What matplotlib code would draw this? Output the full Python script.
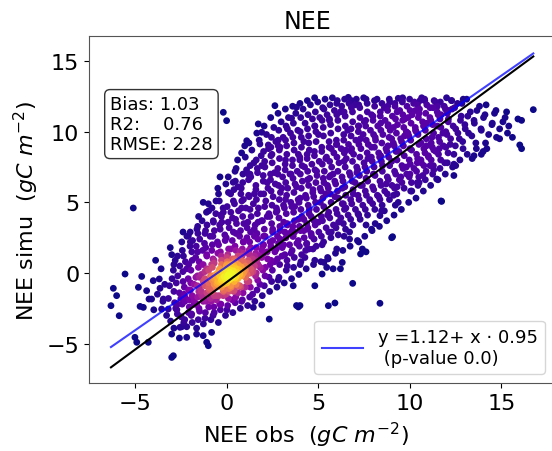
import matplotlib
matplotlib.use('Agg')
import matplotlib.pyplot as plt
from matplotlib.colors import PowerNorm
import numpy as np

core_obs = [-1.4, -1.2, -1.1, -1.0, -0.9, -0.8, -0.8, -0.7, -0.6, -0.6, -0.5, -0.4, -0.4, -0.3, -0.2,
            -0.2, -0.1, 0.0, 0.0, 0.1, 0.1, 0.2, 0.2, 0.3, 0.3, 0.4, 0.4, 0.5, 0.5, 0.6, 0.6, 0.7,
            0.8, 0.8, 0.9, 1.0, 1.0, 1.1, 1.2, 1.3, 1.4, 1.5, 1.6, 1.8, -0.15, 0.05, 0.25, 0.35,
            -0.35, 0.15, 0.45, -0.05, 0.55, 0.65, -0.25, 0.75, -0.55, 0.1, 0.3, 0.2,
            -1.0, -0.7, -0.3, 0.0, 0.4, 0.7, 1.1, 1.3, 0.9, -0.6, 0.2, -0.1, 0.5, 1.5, -1.3]
core_sim = [-1.3, -0.9, -1.4, -0.7, -1.1, -0.5, -1.3, -0.8, -0.3, -1.0, -0.6, -0.9, -0.2, -0.5, -0.8,
            0.0, -0.4, -0.7, 0.1, -0.2, -0.5, 0.2, -0.9, -0.3, 0.4, 0.0, -0.6, 0.3, -0.2, 0.6, -0.4, 0.1,
            0.4, -0.2, 0.8, 0.2, 0.5, -0.1, 0.7, 0.3, 1.0, 0.5, 0.9, 1.2, -0.25, -0.15, -0.05, 0.15,
            -0.65, 0.05, -0.35, -0.55, 0.05, 0.25, -0.35, 0.45, -0.75, 0.3, -0.1, -0.4,
            -1.0, -0.4, -1.0, -0.3, 0.5, -0.1, 0.7, 0.0, 0.0, -0.1, 0.6, 0.2, -0.8, 1.2, -0.6]

halo_obs = [-2.8, -2.6, -2.5, -2.4, -2.3, -2.2, -2.1, -2.0, -1.9, -1.9, -1.8, -1.7, -1.6, -1.6, -1.5,
            -1.4, -1.3, -1.3, -1.2, -1.1, -1.0, -1.0, -0.9, -0.8, -0.7, -0.7, -0.6, -0.5, -0.4, -0.3,
            -0.2, -0.1, 0.0, 0.0, 0.1, 0.2, 0.3, 0.4, 0.5, 0.6, 0.7, 0.8, 0.9, 1.0, 1.1, 1.2, 1.3,
            1.4, 1.5, 1.6, 1.7, 1.8, 1.9, 2.0, 2.1, 2.2, 2.3, 2.4, 2.5, 2.6, 2.7, 2.8, 2.9, 3.0, 3.1,
            3.2, 3.3, 3.4, -2.0, -2.7, -1.2, -0.4, 0.3, 0.8, -3.0, -3.2, -2.9,
            -2.3, -2.1, -1.9, -1.8, -1.7, -1.5, -1.5, -1.3, -1.2, -1.1, -0.9, -0.8, -0.7, -0.5, -0.3,
            -0.2, 0.0, 0.1, 0.3, 0.4, 0.6, 0.7, 0.9, 1.1, 1.2, 1.4, 1.6, 1.7, 1.9, 2.0, 2.2, 2.4, 2.5,
            2.7, 2.9, 3.1, 3.3, 3.6, 3.9, 4.2]
halo_sim = [-2.5, -1.4, -3.1, -0.6, -2.0, 0.3, -2.8, -1.2, -3.5, 0.9, -2.2, -0.3, -1.7, 1.5, -2.7,
            -0.1, -2.0, 0.6, -3.2, 1.2, -2.4, 0.2, -1.8, 2.0, -2.8, 0.7, -1.6, 1.4, -2.2, 0.6,
            -1.6, 2.3, -2.6, 1.1, -1.3, 1.7, -1.9, 0.9, 2.8, -1.4, 1.5, -2.0, 2.2, -1.0, 3.2, -0.6, 1.8,
            -1.5, 2.6, 0.0, 3.6, -0.8, 1.6, 2.6, 0.4, 4.0, -0.3, 1.9, 3.1, 0.8, 4.6, -0.5, 2.4, 1.2, 3.6,
            5.2, 0.5, 2.8, 2.2, 1.2, 2.8, 3.4, 3.9, 4.6, -0.4, -1.8, 0.6,
            -1.7, -1.2, -1.6, -0.8, -2.2, -1.0, -0.3, -1.6, -0.4, 0.3, -0.2, 0.4, -1.6, 0.0, 0.9,
            -1.3, 0.6, -1.1, 1.0, -1.2, 1.2, -0.9, 1.4, -0.6, 1.6, 0.2, 1.8, 0.6, 1.1, 2.0, 1.5, 0.9, 2.3,
            1.7, 3.0, 2.0, 3.4, 2.6, 3.8, 3.0]

left_obs = [-3.5, -3.4, -3.3, -3.6, -3.8, -4.0, -2.9, -2.6, -3.1, -2.4, -2.2, -3.9, -2.7,
            -6.21, -6.03, -6.34, -5.89, -5.57, -4.66, -4.84, -4.39, -4.26, -4.12, -4.75, -4.57,
            -5.03, -4.93, -4.3, -3.66, -3.7, -4.03, -3.48, -3.57, -3.21, -3.02, -2.93, -3.02, -5.12,
            -2.2, -1.66, -1.3, -1.11, -1.02, -0.84, -2.57, -2.11, -0.75]
left_sim = [-2.0, -0.8, -3.0, 0.3, -1.5, -2.6, -3.9, -4.6, 1.8, 2.9, -3.8, 0.9, -2.2,
            -1.08, -1.6, -2.31, -3.02, -0.07, -0.24, -1.01, -1.25, -1.84, -1.84, -2.36, -2.43,
            -4.55, -4.9, -4.9, -1.08, -0.42, -0.54, -1.84, -2.55, -2.55, -4.32, -5.85, -5.97, 4.6,
            -4.55, -4.32, -4.43, -4.9, -5.14, -4.2, -3.84, 2.64, 3.7]

upper_left_obs = [-1.6, -1.0, -0.6, -0.3, 0.2, 0.6, 0.9, 1.3, 1.5, 1.9, 2.2, 2.4, 2.6, 2.8, 3.0, 3.2,
                  3.3, 3.5, 1.0, 0.5, -0.5, -1.3, -0.2, -0.02, 2.62, 3.8, 3.53, 1.71, 1.9, 1.08, 1.8,
                  2.26, 2.9, 0.34, 1.16, -0.2]
upper_left_sim = [3.3, 4.4, 5.1, 4.0, 5.6, 6.1, 5.2, 6.8, 5.6, 7.6, 6.4, 8.3, 7.1, 9.4, 6.0, 8.0,
                  10.2, 7.0, 8.2, 7.4, 6.0, 5.0, 11.37, 10.78, 11.84, 11.73, 10.95, 10.55, 9.96, 9.36,
                  9.13, 9.06, 8.9, 6.42, 7.0, 4.3]

mid_obs = [3.5, 3.6, 3.7, 3.8, 3.9, 4.0, 4.0, 4.1, 4.2, 4.3, 4.4, 4.5, 4.5, 4.6, 4.7, 4.8, 4.9, 5.0,
           5.0, 5.1, 5.2, 5.3, 5.4, 5.5, 5.6, 5.7, 5.8, 5.9, 6.0, 6.1, 6.2, 6.3, 6.4, 6.5, 6.6, 6.7,
           6.8, 6.9, 7.0, 7.1, 7.2, 7.3, 7.4, 7.5, 7.6, 7.7, 7.8, 7.9, 8.0, 8.1, 4.2, 4.8, 3.9, 5.3,
           6.0, 5.7, 6.8, 4.4, 5.6, 6.5, 7.2, 7.9, 3.7, 4.6, 5.4, 6.3, 7.0, 7.6]
mid_sim = [1.4, 3.3, 4.7, 6.1, 2.3, 0.6, 5.3, 7.6, 3.8, 1.6, 6.6, 4.5, 8.7, 2.8, 5.9, 0.9, 7.2, 3.6,
           9.8, 5.0, 2.0, 6.4, 8.1, 4.1, 10.8, 2.9, 7.0, 5.4, 9.1, 3.6, 11.4, 6.0, 7.9, 4.6, 10.1, 2.9,
           8.6, 5.6, 11.9, 7.1, 4.1, 9.5, 6.2, 10.7, 3.4, 8.1, 5.2, 11.2, 7.0, 9.6, 9.3, 10.4, 8.4, 11.6,
           12.0, 8.8, 12.2, 3.1, 6.8, 8.7, 10.4, 8.9, 2.9, 4.0, 5.6, 4.9, 6.4, 6.7]

right_obs = [8.2, 8.3, 8.4, 8.5, 8.6, 8.7, 8.8, 8.9, 9.0, 9.1, 9.2, 9.3, 9.4, 9.5, 9.6, 9.7, 9.8, 9.9,
             10.0, 10.1, 10.2, 10.3, 10.4, 10.5, 10.6, 10.7, 10.8, 10.9, 11.0, 11.1, 11.2, 11.3, 11.4,
             11.5, 11.6, 11.7, 11.8, 11.9, 12.0, 12.1, 12.2, 12.3, 12.4, 12.5, 12.6, 12.7, 12.8, 12.9,
             13.0, 13.1, 13.2, 13.3, 13.5, 13.6, 13.8, 13.9, 14.1, 14.3, 14.5, 14.7, 14.9, 15.2, 15.4,
             8.4, 9.0, 9.6, 10.3, 10.9, 11.5, 12.1, 8.6, 9.3, 10.0, 10.6, 11.3, 8.8, 9.8, 12.5, 13.4, 14.0,
             6.63, 9.36, 10.55, 12.28, 12.91, 16.74, 15.9, 16.1, 15.6, 16.0, 16.1, 14.9, 14.2, 13.9, 13.5,
             12.4, 12.4, 11.46, 11.73, 11.1, 10.4, 10.5, 9.1, 9.36, 8.36, 8.45, 7.9, 9.0]
right_sim = [12.3, 5.4, 10.6, 7.6, 11.7, 6.3, 9.0, 12.1, 7.9, 10.3, 4.8, 11.4, 8.6, 6.8, 12.4, 9.7, 7.5,
             11.0, 8.8, 5.8, 12.0, 10.1, 7.8, 11.3, 9.2, 6.9, 12.3, 10.6, 8.3, 11.7, 9.6, 7.3, 12.1,
             10.4, 8.8, 11.2, 9.9, 7.8, 12.4, 10.9, 9.1, 11.6, 8.4, 10.2, 12.0, 9.5, 11.1, 8.8,
             10.5, 12.3, 9.9, 11.4, 10.8, 9.2, 11.8, 10.1, 11.2, 9.8, 10.6, 11.5, 10.2, 11.0, 10.4,
             8.3, 9.5, 10.8, 11.5, 9.0, 11.8, 11.5, 4.4, 6.1, 7.0, 8.0, 8.7, 10.4, 10.0, 7.6, 8.1, 8.6,
             12.43, 12.36, 12.2, 12.2, 12.3, 11.56, 10.9, 10.8, 9.6, 9.06, 8.8, 9.5, 8.8, 8.4, 8.3,
             7.7, 6.9, 6.65, 5.07, 7.6, 6.4, 6.4, 5.5, 5.0, 4.06, 4.4, 3.1, 2.5]

tail_obs = [1.44, 1.9, 2.31, 3.8, 3.9, 4.8, 3.62, 8.1, 7.2, 7.4, 7.3, 7.6, 6.7, 6.4, 6.0, 5.5, 5.3,
            5.45, 5.8, 6.2, 6.3, 5.2, 6.87, 5.54, 5.9, 3.99, 8.36, 9.05, 11.7, 4.7, 4.26, 4.35]
tail_sim = [-2.43, -2.26, -3.26, -2.3, -2.4, -0.9, -0.9, 3.5, 2.2, 1.7, 1.35, 1.5, 2.4, 2.6, 1.7, 1.1,
            0.75, 0.4, 0.3, 0.3, 0.75, -0.07, -0.73, -2.31, -2.12, -2.3, -2.14, 2.57, 5.1, 1.7, 1.1, 2.05]

# filled body of the cloud, (obs, simu) pairs read column by column
band_pts = [
    (-3.08, -3.4), (-2.86, -2.1), (-3.14, -0.9), (-2.93, 0.2), (-3.02, 1.3),
    (-2.47, -3.8), (-2.71, -2.9), (-2.52, -1.8), (-2.77, -0.7), (-2.58, 0.5), (-2.44, 1.6),
    (-2.31, -3.3), (-2.06, -2.4), (-2.35, -1.5), (-2.12, -0.4), (-2.27, 0.8), (-2.02, 1.9), (-2.19, 2.6),
    (-1.66, -3.9), (-1.93, -2.9), (-1.79, -1.9), (-1.62, -0.9), (-1.97, 0.2), (-1.71, 1.1), (-1.88, 2.3),
    (-1.64, 3.1), (-1.29, -3.6), (-1.53, -2.5), (-1.38, -1.6), (-1.24, -0.5), (-1.56, 0.4), (-1.33, 1.6),
    (-1.49, 2.4), (-1.36, 3.7), (-0.88, -3.3), (-1.13, -2.0), (-0.97, -1.2), (-0.84, 0.6), (-1.16, 1.8),
    (-0.92, 2.6), (-1.09, 3.4), (-1.02, 4.9), (-0.47, -3.5), (-0.72, -2.4), (-0.58, -1.9), (-0.43, 0.2),
    (-0.76, 1.0), (-0.52, 2.2), (-0.69, 3.0), (-0.61, 4.2), (-0.46, 5.6), (-0.08, -3.0), (-0.33, -2.2),
    (-0.17, -1.2), (-0.04, 0.5), (-0.36, 1.5), (-0.12, 2.7), (-0.28, 3.6), (-0.21, 4.6), (-0.06, 6.3),
    (0.32, -2.8), (0.08, -1.8), (0.23, -1.0), (0.37, 0.7), (0.04, 1.3), (0.29, 2.3), (0.12, 3.2), (0.21, 4.3),
    (0.35, 5.1), (0.07, 6.8), (0.73, -2.5), (0.48, -1.7), (0.62, -0.9), (0.77, 0.9), (0.44, 1.9), (0.69, 2.6),
    (0.52, 3.5), (0.63, 4.4), (0.76, 5.6), (0.46, 6.5), (0.58, 8.0), (1.13, -2.3), (0.88, -1.4), (1.02, -0.3),
    (1.16, 0.9), (0.84, 1.7), (1.09, 2.5), (0.92, 3.5), (1.04, 4.6), (1.18, 5.5), (0.86, 6.4), (1.07, 7.3),
    (0.97, 9.0), (1.52, -2.0), (1.28, -1.0), (1.43, 0.1), (1.57, 1.4), (1.24, 2.2), (1.49, 3.1), (1.32, 4.0),
    (1.44, 4.9), (1.58, 5.9), (1.26, 7.0), (1.47, 7.8), (1.36, 8.7), (1.93, -1.6), (1.68, -0.5), (1.82, 0.4),
    (1.96, 1.9), (1.64, 2.8), (1.89, 3.7), (1.72, 4.6), (1.84, 5.6), (1.98, 6.5), (1.66, 7.4), (1.87, 8.3),
    (1.76, 9.4), (2.33, -1.3), (2.08, -0.2), (2.22, 1.0), (2.36, 2.2), (2.04, 3.1), (2.29, 4.2), (2.12, 5.1),
    (2.24, 6.0), (2.38, 7.0), (2.06, 7.9), (2.27, 8.8), (2.16, 9.8), (2.73, -1.0), (2.48, 0.2), (2.62, 1.5),
    (2.76, 2.6), (2.44, 3.5), (2.69, 4.3), (2.52, 5.4), (2.64, 6.3), (2.78, 7.4), (2.46, 8.4), (2.67, 9.3),
    (2.56, 10.3), (3.13, -0.7), (2.88, 0.6), (3.02, 1.8), (3.16, 2.9), (2.84, 3.9), (3.09, 4.8), (2.92, 5.7),
    (3.04, 6.8), (3.18, 7.7), (2.86, 8.7), (3.07, 9.6), (2.96, 10.7), (3.53, -0.4), (3.28, 0.9), (3.42, 2.0),
    (3.56, 3.0), (3.24, 4.2), (3.49, 5.0), (3.32, 6.0), (3.44, 7.0), (3.58, 8.0), (3.26, 9.0), (3.47, 9.9),
    (3.36, 11.0), (3.93, -0.1), (3.68, 1.1), (3.82, 2.1), (3.96, 3.3), (3.64, 4.3), (3.89, 5.2), (3.72, 6.3),
    (3.84, 7.2), (3.98, 8.2), (3.66, 9.2), (3.87, 10.1), (3.76, 11.3), (4.33, 0.3), (4.08, 1.3), (4.22, 2.5),
    (4.36, 3.5), (4.04, 4.5), (4.29, 5.5), (4.12, 6.5), (4.24, 7.5), (4.38, 8.4), (4.06, 9.6), (4.27, 10.6),
    (4.16, 11.6), (4.73, 0.6), (4.48, 1.7), (4.62, 2.6), (4.76, 3.7), (4.44, 4.8), (4.69, 5.7), (4.52, 6.7),
    (4.64, 7.7), (4.78, 8.6), (4.46, 9.7), (4.67, 10.9), (4.56, 11.9), (5.13, 0.8), (4.88, 1.9), (5.02, 2.9),
    (5.16, 4.0), (4.84, 5.0), (5.09, 6.0), (4.92, 6.9), (5.04, 7.9), (5.18, 8.9), (4.86, 10.0), (5.07, 11.0),
    (4.96, 12.1), (5.53, 1.0), (5.28, 2.2), (5.42, 3.2), (5.56, 4.3), (5.24, 5.3), (5.49, 6.2), (5.32, 7.2),
    (5.44, 8.2), (5.58, 9.3), (5.26, 10.3), (5.47, 11.2), (5.36, 12.3), (5.93, 1.4), (5.68, 2.5), (5.82, 3.4),
    (5.96, 4.5), (5.64, 5.6), (5.89, 6.5), (5.72, 7.5), (5.84, 8.5), (5.98, 9.4), (5.66, 10.5), (5.87, 11.5),
    (5.76, 12.4), (6.33, 1.6), (6.08, 2.7), (6.22, 3.9), (6.36, 4.9), (6.04, 5.8), (6.29, 6.8), (6.12, 7.8),
    (6.24, 8.8), (6.38, 9.8), (6.06, 10.8), (6.27, 11.8), (6.73, 1.9), (6.48, 3.1), (6.62, 4.1), (6.76, 5.2),
    (6.44, 6.1), (6.69, 7.1), (6.52, 8.1), (6.64, 9.1), (6.78, 10.2), (6.46, 11.1), (6.67, 12.0), (7.13, 2.3),
    (6.88, 3.4), (7.02, 4.5), (7.16, 5.5), (6.84, 6.5), (7.09, 7.5), (6.92, 8.4), (7.04, 9.4), (7.18, 10.4),
    (6.86, 11.4), (7.07, 12.3), (7.53, 2.6), (7.28, 3.8), (7.42, 4.8), (7.56, 5.8), (7.24, 6.9), (7.49, 7.8),
    (7.32, 8.8), (7.44, 9.8), (7.58, 10.8), (7.26, 11.7), (7.47, 12.4), (7.93, 3.0), (7.68, 4.1), (7.82, 5.1),
    (7.96, 6.1), (7.64, 7.2), (7.89, 8.2), (7.72, 9.1), (7.84, 10.1), (7.98, 11.1), (7.66, 12.0), (8.33, 3.3),
    (8.08, 4.5), (8.22, 5.5), (8.36, 6.5), (8.04, 7.5), (8.29, 8.5), (8.12, 9.4), (8.24, 10.4), (8.38, 11.4),
    (8.06, 12.2), (8.73, 3.7), (8.48, 4.8), (8.62, 5.8), (8.76, 6.8), (8.44, 7.9), (8.69, 8.8), (8.52, 9.8),
    (8.64, 10.8), (8.78, 11.8), (9.13, 4.1), (8.88, 5.2), (9.02, 6.2), (9.16, 7.2), (8.84, 8.2), (9.09, 9.2),
    (8.92, 10.1), (9.04, 11.1), (9.18, 12.0), (9.53, 4.5), (9.28, 5.6), (9.42, 6.6), (9.56, 7.6), (9.24, 8.6),
    (9.49, 9.5), (9.32, 10.5), (9.44, 11.5), (9.58, 12.2), (9.93, 5.0), (9.68, 6.0), (9.82, 7.0), (9.96, 8.0),
    (9.64, 9.0), (9.89, 9.9), (9.72, 10.9), (9.84, 11.8), (10.33, 5.3), (10.08, 6.4), (10.22, 7.4),
    (10.36, 8.4), (10.04, 9.4), (10.29, 10.3), (10.12, 11.2), (10.24, 12.1), (10.73, 5.8), (10.48, 6.8),
    (10.62, 7.8), (10.76, 8.8), (10.44, 9.8), (10.69, 10.7), (10.52, 11.6), (10.64, 12.4), (11.13, 6.2),
    (10.88, 7.2), (11.02, 8.2), (11.16, 9.2), (10.84, 10.1), (11.09, 11.0), (10.92, 11.9), (11.53, 6.6),
    (11.28, 7.6), (11.42, 8.6), (11.56, 9.6), (11.24, 10.5), (11.49, 11.4), (11.32, 12.2), (11.93, 7.0),
    (11.68, 8.0), (11.82, 9.0), (11.96, 10.0), (11.64, 10.9), (11.87, 11.8), (12.33, 7.5), (12.08, 8.5),
    (12.22, 9.5), (12.36, 10.4), (12.04, 11.3), (12.27, 12.2), (12.73, 8.0), (12.48, 9.0), (12.62, 9.9),
    (12.76, 10.8), (12.44, 11.7), (13.13, 8.4), (12.88, 9.3), (13.02, 10.2), (13.16, 11.1), (12.84, 12.0),
    (13.63, 8.8), (13.38, 9.7), (13.52, 10.6), (13.66, 11.5), (14.13, 9.2), (13.88, 10.2), (14.02, 11.0),
    (14.16, 11.9), (14.73, 9.6), (14.48, 10.5), (14.62, 11.3), (15.33, 9.9), (15.08, 10.7), (15.28, 11.4),
]

# second pass over the body, between the columns above
fill_pts = [
    (-2.74, -2.6), (-2.9, -1.3), (-2.69, -0.2), (-2.83, 0.9),
    (-2.36, -3.5), (-2.45, -2.2), (-2.33, -1.0), (-2.41, 0.1), (-2.38, 1.2), (-2.47, 2.2),
    (-1.95, -3.0), (-2.04, -1.9), (-1.98, -0.7), (-2.09, 0.6), (-1.92, 1.5), (-2.01, 2.9),
    (-1.57, -3.3), (-1.66, -2.2), (-1.54, -1.3), (-1.61, -0.2), (-1.52, 0.8), (-1.68, 1.9), (-1.59, 2.8),
    (-1.55, 4.0), (-1.18, -2.8), (-1.26, -1.9), (-1.14, -0.9), (-1.21, 0.1), (-1.11, 1.3), (-1.23, 2.1),
    (-1.17, 3.0), (-1.12, 4.3), (-0.76, -3.0), (-0.86, -2.0), (-0.79, -0.2), (-0.71, 0.9), (-0.83, 1.6),
    (-0.77, 2.6), (-0.74, 3.6), (-0.82, 4.6), (-0.36, -2.6), (-0.44, -1.6), (-0.39, 0.3), (-0.31, 1.2),
    (-0.46, 2.0), (-0.37, 3.1), (-0.34, 4.1), (-0.42, 5.1), (-0.38, 6.8), (0.04, -2.3), (-0.06, -1.5),
    (0.02, 0.8), (0.09, 1.7), (-0.04, 2.5), (0.06, 3.6), (0.01, 4.7), (0.08, 5.7), (0.45, -2.1),
    (0.36, -1.3), (0.42, 1.0), (0.49, 1.6), (0.35, 2.9), (0.47, 3.8), (0.41, 4.9), (0.38, 5.9), (0.44, 7.2),
    (0.84, -1.9), (0.76, -1.0), (0.82, 1.2), (0.89, 2.2), (0.74, 3.0), (0.86, 4.0), (0.81, 5.1), (0.78, 6.0),
    (0.87, 7.0), (0.8, 8.5), (1.24, -1.7), (1.16, -0.6), (1.22, 1.3), (1.29, 2.9), (1.14, 3.6), (1.26, 4.5),
    (1.21, 5.4), (1.18, 6.6), (1.27, 7.6), (1.2, 9.2), (1.64, -1.2), (1.56, -0.2), (1.62, 0.9), (1.69, 2.4),
    (1.54, 3.4), (1.66, 4.2), (1.61, 5.2), (1.58, 6.2), (1.67, 7.1), (1.6, 8.0), (1.63, 9.9), (2.04, -0.9),
    (1.96, 0.2), (2.02, 1.4), (2.09, 2.6), (1.94, 3.7), (2.06, 4.7), (2.01, 5.6), (1.98, 6.9), (2.07, 7.5),
    (2.0, 8.6), (2.03, 10.4), (2.44, -0.6), (2.36, 0.6), (2.42, 1.8), (2.49, 2.9), (2.34, 4.0), (2.46, 4.8),
    (2.41, 5.8), (2.38, 6.6), (2.47, 7.8), (2.4, 8.9), (2.43, 9.6), (2.39, 11.0), (2.84, -0.3), (2.76, 1.0),
    (2.82, 2.1), (2.89, 3.3), (2.74, 4.4), (2.86, 5.2), (2.81, 6.2), (2.78, 7.0), (2.87, 8.1), (2.8, 9.0),
    (2.83, 10.1), (2.79, 11.3), (3.24, 0.2), (3.16, 1.3), (3.22, 2.5), (3.29, 3.5), (3.14, 4.6), (3.26, 5.5),
    (3.21, 6.4), (3.18, 7.3), (3.27, 8.4), (3.2, 9.4), (3.23, 10.4), (3.19, 11.6), (3.64, 0.4), (3.56, 1.6),
    (3.62, 2.6), (3.69, 3.7), (3.54, 4.7), (3.66, 5.7), (3.61, 6.7), (3.58, 7.6), (3.67, 8.7), (3.6, 9.6),
    (3.63, 10.6), (3.59, 11.8), (4.04, 0.8), (3.96, 1.9), (4.02, 3.0), (4.09, 4.0), (3.94, 5.0), (4.06, 6.0),
    (4.01, 7.0), (3.98, 8.0), (4.07, 8.9), (4.0, 10.0), (4.03, 11.0), (3.99, 12.0), (4.36, 2.1),
    (4.42, 3.2), (4.49, 4.2), (4.34, 5.3), (4.46, 6.2), (4.41, 7.2), (4.38, 8.1), (4.47, 9.2), (4.4, 10.2),
    (4.43, 11.2), (4.39, 12.2), (4.76, 2.4), (4.82, 3.4), (4.89, 4.5), (4.74, 5.4), (4.86, 6.4),
    (4.81, 7.3), (4.78, 8.3), (4.87, 9.3), (4.8, 10.4), (4.83, 11.4), (4.79, 12.4), (5.16, 2.6),
    (5.22, 3.7), (5.29, 4.7), (5.14, 5.8), (5.26, 6.7), (5.21, 7.7), (5.18, 8.6), (5.27, 9.7), (5.2, 10.8),
    (5.23, 11.7), (5.56, 2.9), (5.62, 3.9), (5.69, 5.0), (5.54, 6.0), (5.66, 6.9), (5.61, 7.9),
    (5.58, 8.9), (5.67, 9.9), (5.6, 10.9), (5.63, 11.9), (5.96, 3.2), (6.02, 4.2), (6.09, 5.3),
    (5.94, 6.3), (6.06, 7.2), (6.01, 8.2), (5.98, 9.1), (6.07, 10.2), (6.0, 11.2), (6.03, 12.2),
    (6.36, 3.5), (6.42, 4.5), (6.49, 5.5), (6.34, 6.5), (6.46, 7.5), (6.41, 8.5), (6.38, 9.4), (6.47, 10.4),
    (6.4, 11.4), (6.43, 12.3), (6.76, 3.8), (6.82, 4.9), (6.89, 5.9), (6.74, 6.9), (6.86, 7.9),
    (6.81, 8.8), (6.78, 9.7), (6.87, 10.7), (6.8, 11.7), (7.16, 4.2), (7.22, 5.2), (7.29, 6.2),
    (7.14, 7.3), (7.26, 8.2), (7.21, 9.1), (7.18, 10.0), (7.27, 11.0), (7.2, 11.9), (7.56, 4.5),
    (7.62, 5.5), (7.69, 6.5), (7.54, 7.5), (7.66, 8.5), (7.61, 9.4), (7.58, 10.4), (7.67, 11.4), (7.6, 12.3),
    (7.96, 4.9), (8.02, 5.9), (8.09, 6.9), (7.94, 7.9), (8.06, 8.9), (8.01, 9.8), (7.98, 10.8),
    (8.07, 11.8), (8.36, 5.2), (8.42, 6.2), (8.49, 7.2), (8.34, 8.2), (8.46, 9.2), (8.41, 10.1),
    (8.38, 11.1), (8.47, 12.0), (8.76, 5.6), (8.82, 6.6), (8.89, 7.6), (8.74, 8.6), (8.86, 9.6),
    (8.81, 10.5), (8.78, 11.5), (8.87, 12.3), (9.16, 6.0), (9.22, 7.0), (9.29, 8.0), (9.14, 9.0),
    (9.26, 9.9), (9.21, 10.9), (9.18, 11.8), (9.56, 6.4), (9.62, 7.4), (9.69, 8.3), (9.54, 9.3),
    (9.66, 10.3), (9.61, 11.2), (9.58, 12.1), (10.04, 5.8), (9.96, 6.8), (10.02, 7.7), (10.09, 8.7),
    (9.94, 9.7), (10.06, 10.6), (10.01, 11.5), (9.98, 12.3), (10.44, 6.2), (10.36, 7.2), (10.42, 8.1),
    (10.49, 9.1), (10.34, 10.0), (10.46, 11.0), (10.41, 11.9), (10.84, 6.6), (10.76, 7.6), (10.82, 8.5),
    (10.89, 9.5), (10.74, 10.4), (10.86, 11.3), (10.81, 12.2), (11.24, 7.0), (11.16, 8.0), (11.22, 8.9),
    (11.29, 9.9), (11.14, 10.8), (11.26, 11.7), (11.64, 7.4), (11.56, 8.4), (11.62, 9.3), (11.69, 10.3),
    (11.54, 11.2), (11.66, 12.1), (12.04, 7.8), (11.96, 8.9), (12.02, 9.8), (12.09, 10.7), (11.94, 11.6),
]

# regression lines as drawn
fit_icpt, fit_slope = 0.47, 0.90      # blue, labelled 1.12 + 0.95 x
ref_icpt, ref_slope = -0.63, 0.953    # black

pts = band_pts + fill_pts
obs = np.array(core_obs + halo_obs + left_obs + upper_left_obs + mid_obs + right_obs + tail_obs
               + [p[0] for p in pts])
sim = np.array(core_sim + halo_sim + left_sim + upper_left_sim + mid_sim + right_sim + tail_sim
               + [p[1] for p in pts])

# gaussian point density for colouring
h = 0.8
d2 = (obs[:, None] - obs[None, :]) ** 2 + (sim[:, None] - sim[None, :]) ** 2
dens = np.exp(-d2 / (2 * h * h)).sum(axis=1)
order = np.argsort(dens)
obs, sim, dens = obs[order], sim[order], dens[order]

fig = plt.figure(figsize=(5.52, 4.52), dpi=100)
ax = fig.add_axes([89 / 552, 68 / 452, 469 / 552, 347 / 452])

ax.scatter(obs, sim, c=dens, cmap='plasma', norm=PowerNorm(gamma=2.1), s=24, edgecolors='none')

xl = np.array([obs.min(), obs.max()])
ax.plot(xl, fit_icpt + fit_slope * xl, color='blue', alpha=0.75, lw=1.5,
        label='y =1.12+ x · 0.95\n (p-value 0.0)')
ax.plot(xl, ref_icpt + ref_slope * xl, color='black', lw=1.5)

ax.set_xlim(-7.54, 18.09)
ax.set_ylim(-7.78, 16.77)
ax.set_xticks([-5, 0, 5, 10, 15])
ax.set_yticks([-5, 0, 5, 10, 15])
ax.tick_params(labelsize=16)
for s in ax.spines.values():
    s.set_color('#555555')

ax.set_title('NEE', fontsize=17, x=0.465)
ax.set_xlabel('NEE obs  ($gC\\ m^{-2}$)', fontsize=16)
ax.set_ylabel('NEE simu  ($gC\\ m^{-2}$)', fontsize=16)
ax.xaxis.set_label_coords(0.463, -0.105)

ax.text(0.045, 0.83, 'Bias: 1.03\nR2:    0.76\nRMSE: 2.28', transform=ax.transAxes,
        fontsize=13, va='top', ha='left', linespacing=1.15,
        bbox=dict(boxstyle='round,pad=0.3', fc='white', ec='#333333'))

ax.legend(loc='lower right', bbox_to_anchor=(0.972, 0.026), borderaxespad=0,
          fontsize=13, handlelength=2.3)

fig.savefig('out.png', dpi=100)
